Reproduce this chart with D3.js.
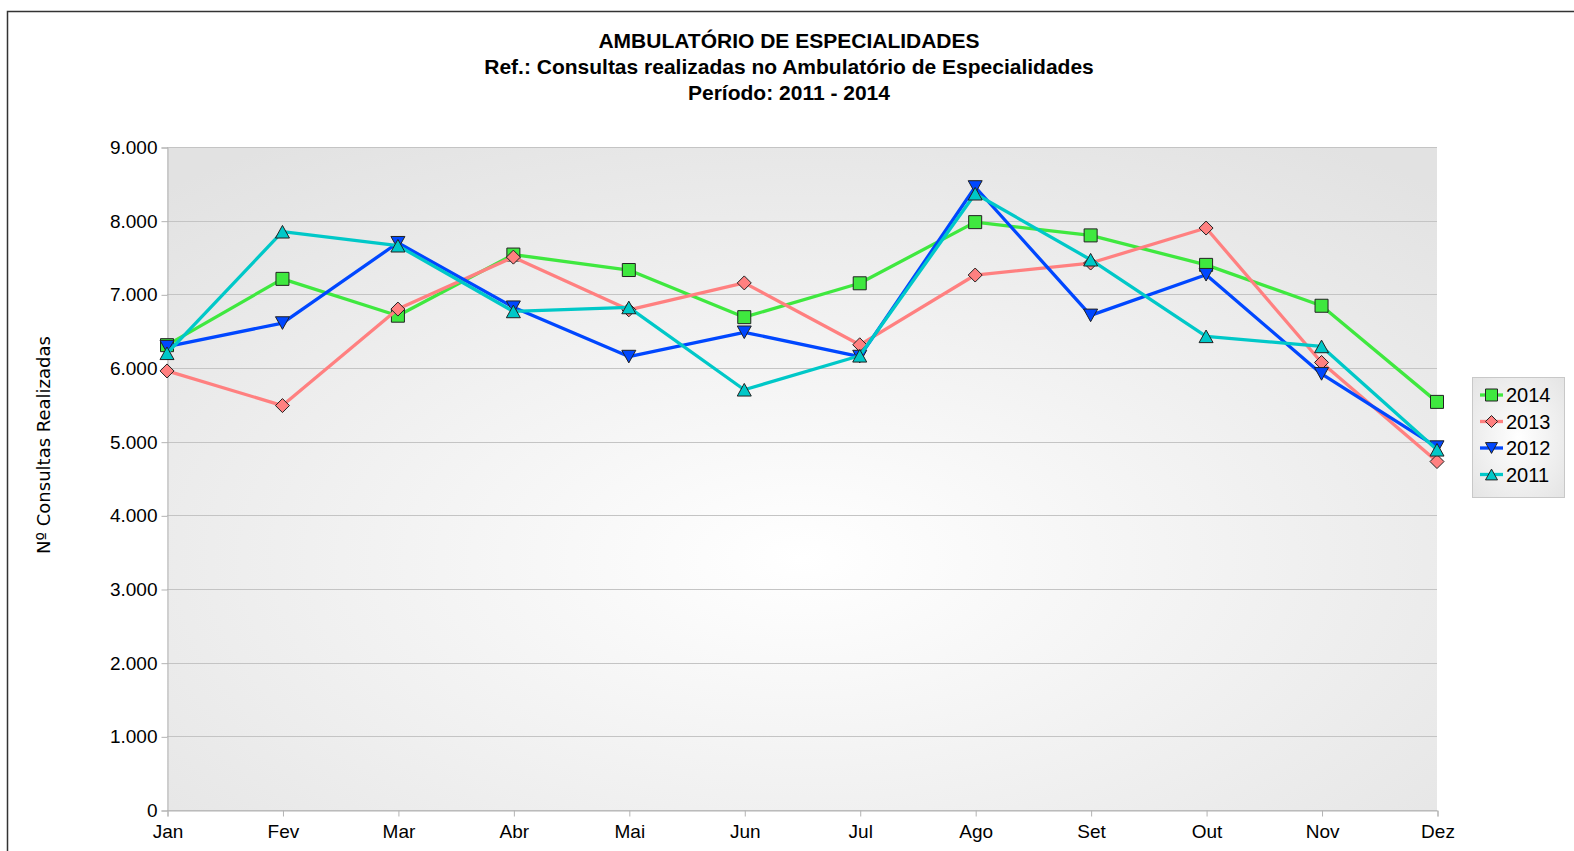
<!DOCTYPE html>
<html>
<head>
<meta charset="utf-8">
<script src="https://cdn.jsdelivr.net/npm/d3@7"></script>
<style>
  body { margin: 0; background: #fff; }
  svg text { font-family: "Liberation Sans", Arial, sans-serif; fill: #000; }
</style>
</head>
<body>
<div id="chart"></div>
<script>
// chart data
const months = ['Jan', 'Fev', 'Mar', 'Abr', 'Mai', 'Jun', 'Jul', 'Ago', 'Set', 'Out', 'Nov', 'Dez'];
const yTicks = [0, 1000, 2000, 3000, 4000, 5000, 6000, 7000, 8000, 9000];
const titleLines = ['AMBULATÓRIO DE ESPECIALIDADES', 'Ref.: Consultas realizadas no Ambulatório de Especialidades', 'Período: 2011 - 2014'];
const yLabel = 'Nº Consultas Realizadas';

const values2014 = [6310, 7210, 6710, 7540, 7330, 6690, 7150, 7980, 7800, 7400, 6845, 5540];
const values2013 = [5960, 5490, 6800, 7505, 6790, 7155, 6315, 7262, 7425, 7900, 6075, 4730];
const values2012 = [6290, 6610, 7700, 6825, 6155, 6485, 6155, 8457, 6714, 7266, 5920, 4926];
const values2011 = [6200, 7850, 7660, 6768, 6822, 5705, 6166, 8366, 7470, 6430, 6293, 4890];

const series = [
    { name: '2014', values: values2014, color: '#3fe83f', symbol: 'square' },
    { name: '2013', values: values2013, color: '#ff8080', symbol: 'diamond' },
    { name: '2012', values: values2012, color: '#0047ff', symbol: 'down' },
    { name: '2011', values: values2011, color: '#00c8c8', symbol: 'up' }
];

const width = 1574, height = 851;
const plot = { left: 167, right: 1437, top: 147, bottom: 810 };

const svg = d3.select('#chart').append('svg')
    .attr('width', width)
    .attr('height', height);

const defs = svg.append('defs');
let bg = defs.append('radialGradient').attr('id', 'plotBg')
    .attr('cx', '50%').attr('cy', '62%').attr('r', '75%');
bg.append('stop').attr('offset', '0%').attr('stop-color', '#ffffff');
bg.append('stop').attr('offset', '100%').attr('stop-color', '#e2e2e2');

let lg = defs.append('radialGradient').attr('id', 'legendBg')
    .attr('cx', '50%').attr('cy', '50%').attr('r', '70%');
lg.append('stop').attr('offset', '0%').attr('stop-color', '#ffffff');
lg.append('stop').attr('offset', '100%').attr('stop-color', '#e4e4e4');

// outer frame (runs off the right and bottom edge)
svg.append('rect')
    .attr('x', 7.5).attr('y', 11.5)
    .attr('width', 1600).attr('height', 900)
    .attr('fill', 'none').attr('stroke', '#333').attr('stroke-width', 1.5);

let fmt = d3.formatLocale({ decimal: ',', thousands: '.', grouping: [3], currency: ['R$', ''] }).format(',');

let xScale = d3.scalePoint().domain(months).range([plot.left, plot.right]);
let yScale = d3.scaleLinear().domain([0, 9000]).range([plot.bottom, plot.top]);

svg.append('rect')
    .attr('x', plot.left).attr('y', plot.top)
    .attr('width', plot.right - plot.left).attr('height', plot.bottom - plot.top)
    .attr('fill', 'url(#plotBg)');

// gridlines
svg.append('g').selectAll('line').data(yTicks).enter().append('line')
    .attr('x1', plot.left).attr('x2', plot.right)
    .attr('y1', d => Math.round(yScale(d)) + 0.5)
    .attr('y2', d => Math.round(yScale(d)) + 0.5)
    .attr('stroke', '#c4c4c4').attr('stroke-width', 1);

// axes
let yAxis = svg.append('g').attr('transform', `translate(${plot.left + 0.5},0.5)`)
    .call(d3.axisLeft(yScale).tickValues(yTicks).tickFormat(fmt).tickSize(6).tickPadding(4));
let xAxis = svg.append('g').attr('transform', `translate(0.5,${plot.bottom + 0.5})`)
    .call(d3.axisBottom(xScale).tickSize(6).tickPadding(8));

[yAxis, xAxis].forEach(ax => {
    ax.select('.domain').attr('stroke', '#b3b3b3');
    ax.selectAll('.tick line').attr('stroke', '#b3b3b3');
    ax.selectAll('text')
        .style('font-family', '"Liberation Sans", Arial, sans-serif')
        .style('font-size', '19px').attr('fill', '#000');
});

// title
svg.append('g').selectAll('text').data(titleLines).enter().append('text')
    .attr('x', 789)
    .attr('y', (d, i) => 48 + i * 26)
    .attr('text-anchor', 'middle')
    .style('font-size', '21px').style('font-weight', 'bold')
    .text(d => d);

svg.append('text')
    .attr('transform', 'translate(50,445) rotate(-90)')
    .attr('text-anchor', 'middle')
    .style('font-family', '"DejaVu Sans", sans-serif')
    .style('font-size', '18px')
    .text(yLabel);

function marker(sel, symbol, color, s) {
    let p;
    if (symbol === 'square') p = `M${-s},${-s}H${s}V${s}H${-s}Z`;
    else if (symbol === 'diamond') p = `M0,${-s}L${s},0L0,${s}L${-s},0Z`;
    else if (symbol === 'down') p = `M${-s},${-s * 0.9}H${s}L0,${s * 0.9}Z`;
    else p = `M${-s},${s * 0.9}H${s}L0,${-s * 0.9}Z`;
    return sel.append('path').attr('d', p)
        .attr('fill', color).attr('stroke', '#222').attr('stroke-width', 1);
}

let line = d3.line().x((d, i) => xScale(months[i])).y(d => yScale(d));

series.forEach(s => {
    let g = svg.append('g');
    g.append('path').datum(s.values)
        .attr('d', line)
        .attr('fill', 'none').attr('stroke', s.color)
        .attr('stroke-width', 3.3).attr('stroke-linejoin', 'round');
    s.values.forEach((v, i) => {
        let m = g.append('g').attr('transform', `translate(${xScale(months[i])},${yScale(v)})`);
        marker(m, s.symbol, s.color, s.symbol === 'square' ? 6.5 : 7);
    });
});

// legend
let legend = svg.append('g');
legend.append('rect')
    .attr('x', 1472.5).attr('y', 377.5).attr('width', 92).attr('height', 120)
    .attr('fill', 'url(#legendBg)').attr('stroke', '#c8c8c8');
series.forEach((s, i) => {
    let cy = 395 + i * 26.5;
    legend.append('line')
        .attr('x1', 1480).attr('x2', 1503).attr('y1', cy).attr('y2', cy)
        .attr('stroke', s.color).attr('stroke-width', 3.3);
    let m = legend.append('g').attr('transform', `translate(1491.5,${cy})`);
    marker(m, s.symbol, s.color, 6);
    legend.append('text')
        .attr('x', 1506).attr('y', cy + 7)
        .style('font-size', '20px')
        .text(s.name);
});
</script>
</body>
</html>
